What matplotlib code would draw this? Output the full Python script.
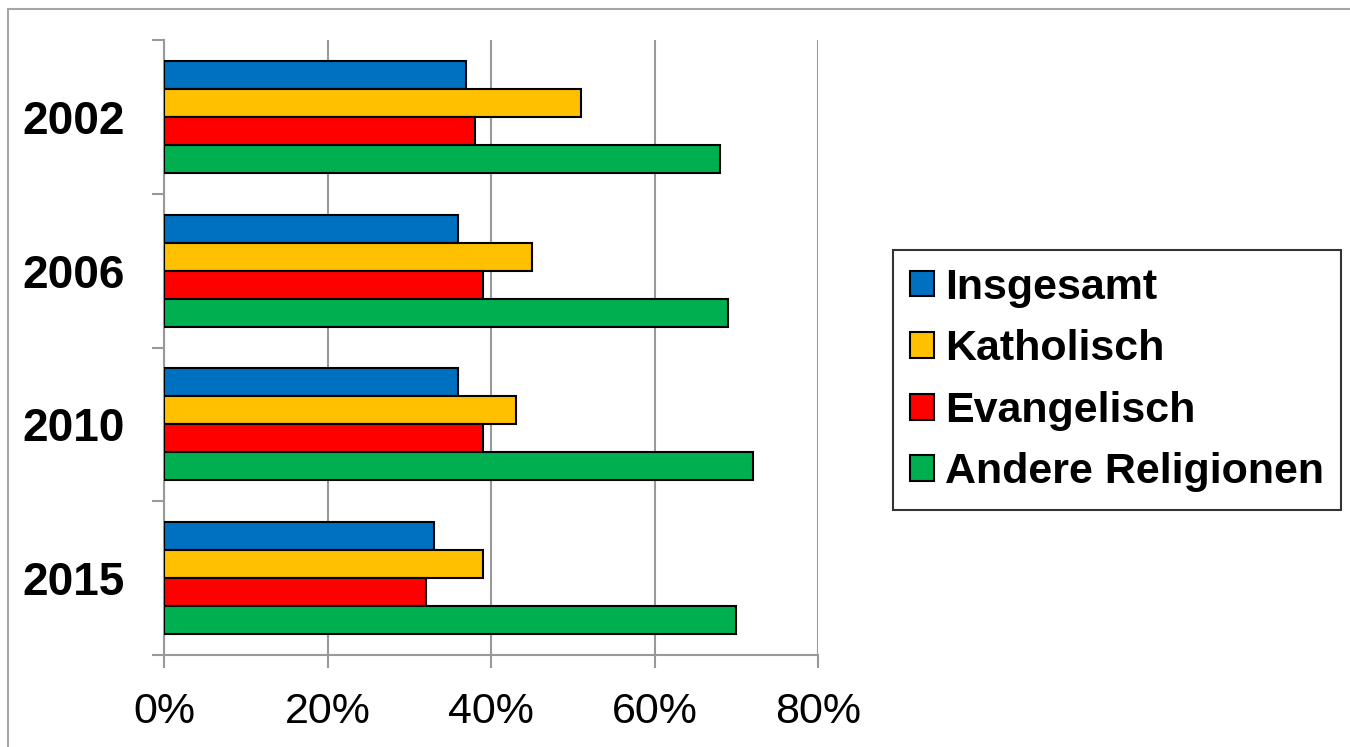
import matplotlib.pyplot as plt
from matplotlib.patches import Rectangle
from matplotlib.ticker import FixedLocator, PercentFormatter

# ====== DATA ======
years = ["2002", "2006", "2010", "2015"]
insgesamt = [37, 36, 36, 33]
katholisch = [51, 45, 43, 39]
evangelisch = [38, 39, 39, 32]
andere = [68, 69, 72, 70]

series = [
    ("Insgesamt", insgesamt, "#0070C0"),
    ("Katholisch", katholisch, "#FFC000"),
    ("Evangelisch", evangelisch, "#FF0000"),
    ("Andere Religionen", andere, "#00B050"),
]

plt.rcParams["font.family"] = ["Liberation Sans", "DejaVu Sans"]

fig = plt.figure(figsize=(13.5, 7.47), dpi=100)
ax = fig.add_axes([164 / 1350, 1 - 655 / 747, (818 - 164) / 1350, (655 - 40) / 747])

# gray frame around the chart area
fig.patches.append(Rectangle((8 / 1350, -0.1), 1.2, 1 - 9 / 747 + 0.1,
                             transform=fig.transFigure, fill=False,
                             edgecolor="#A6A6A6", linewidth=1.5))

h = 0.182
y = list(range(len(years)))
for i, (name, vals, col) in enumerate(series):
    off = (i - 1.5) * h
    ax.barh([v + off for v in y], vals, height=h, color=col,
            edgecolor="black", linewidth=1.5, label=name, zorder=3)

ax.set_xlim(0, 80)
ax.set_ylim(3.5, -0.5)

ax.set_xticks([0, 20, 40, 60, 80])
ax.xaxis.set_major_formatter(PercentFormatter(decimals=0))
ax.tick_params(axis="x", length=9.4, width=1.5, color="#999999",
               labelsize=31, pad=17)

ax.set_yticks(y)
ax.set_yticklabels(years, fontweight="bold", fontsize=33)
ax.yaxis.set_minor_locator(FixedLocator([-0.5, 0.5, 1.5, 2.5, 3.5]))
ax.tick_params(axis="y", which="major", length=0, pad=28)
ax.tick_params(axis="y", which="minor", length=8.6, width=1.5, color="#999999")

ax.grid(True, axis="x", color="#999999", linewidth=1.5, zorder=0)
ax.set_axisbelow(True)
for s in ["top", "right"]:
    ax.spines[s].set_visible(False)
for s in ["left", "bottom"]:
    ax.spines[s].set_color("#999999")
    ax.spines[s].set_linewidth(1.5)

leg = fig.legend(loc="center left", bbox_to_anchor=(893 / 1350, 1 - 380 / 747),
                 prop={"weight": "bold", "size": 31}, frameon=True,
                 fancybox=False, handlelength=0.55, handleheight=0.55,
                 handletextpad=0.25, labelspacing=0.5, borderpad=0.4,
                 borderaxespad=0)
leg.get_frame().set_edgecolor("black")
leg.get_frame().set_linewidth(1.5)

fig.savefig("out.png", dpi=100)
